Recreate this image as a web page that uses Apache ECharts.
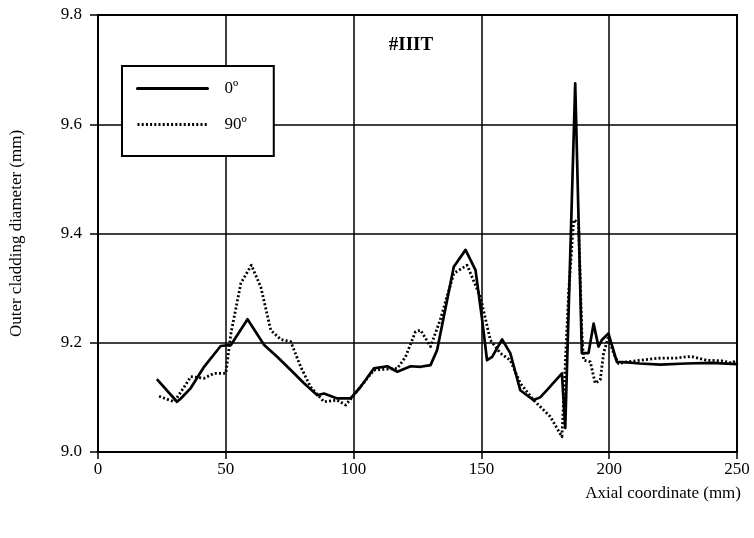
<!DOCTYPE html>
<html>
<head>
<meta charset="utf-8">
<script src="https://cdn.jsdelivr.net/npm/echarts@6/dist/echarts.min.js"></script>
<style>html,body{margin:0;padding:0;background:#fff}#c{width:754px;height:538px}</style>
</head>
<body>
<div id="c"></div>
<script>
// ---- Data ----
const seriesNames = ['0\u00BA', '90\u00BA'];
const xTicks = [0, 50, 100, 150, 200, 250];
const yTicks = [9.0, 9.2, 9.4, 9.6, 9.8];

const x0 = [23.3, 30.9, 32.4, 36.3, 41.5, 48.0, 52.0, 58.5, 65.0, 70.2, 75.4, 80.6, 85.8, 88.4, 93.6, 98.8,
  102.7, 107.9, 113.2, 117.1, 122.3, 126.2, 130.1, 132.7, 139.2, 143.8, 147.7, 150.3, 152.2, 154.2, 158.1,
  161.3, 165.2, 170.4, 173.0, 176.0, 181.5, 182.8, 186.7, 189.3, 191.9, 193.9, 195.8, 197.1, 199.7, 203.0,
  207.0, 212.0, 220.0, 230.0, 240.0, 250.0];
const y0 = [9.132, 9.092, 9.098, 9.117, 9.156, 9.194, 9.196, 9.243, 9.196, 9.174, 9.150, 9.126, 9.104, 9.107, 9.098, 9.098,
  9.119, 9.153, 9.157, 9.147, 9.157, 9.156, 9.159, 9.187, 9.339, 9.370, 9.333, 9.242, 9.168, 9.174, 9.206,
  9.181, 9.113, 9.095, 9.100, 9.115, 9.144, 9.044, 9.675, 9.181, 9.181, 9.235, 9.193, 9.205, 9.217, 9.165,
  9.164, 9.162, 9.160, 9.162, 9.163, 9.161];

const x90 = [23.9, 29.8, 33.7, 36.3, 41.5, 45.4, 50.0, 52.0, 55.9, 60.0, 63.7, 67.6, 71.5, 75.4, 79.3, 83.2,
  88.4, 93.6, 96.9, 100.1, 107.9, 117.1, 120.3, 124.2, 126.2, 130.1, 133.9, 139.2, 144.4, 149.6, 153.5,
  157.4, 161.3, 165.2, 170.4, 176.9, 181.5, 184.1, 186.1, 188.0, 189.3, 190.0, 192.6, 194.5, 196.5, 197.8,
  199.7, 201.7, 203.6, 207.0, 212.0, 220.0, 226.0, 232.0, 238.0, 244.0, 248.0, 250.0];
const y90 = [9.102, 9.092, 9.119, 9.138, 9.135, 9.144, 9.144, 9.217, 9.309, 9.342, 9.302, 9.223, 9.206, 9.202, 9.156, 9.119,
  9.092, 9.095, 9.086, 9.104, 9.150, 9.153, 9.174, 9.220, 9.223, 9.193, 9.242, 9.327, 9.342, 9.284, 9.205,
  9.181, 9.168, 9.126, 9.095, 9.065, 9.028, 9.290, 9.425, 9.419, 9.217, 9.168, 9.165, 9.126, 9.132, 9.181,
  9.211, 9.181, 9.162, 9.165, 9.168, 9.172, 9.172, 9.175, 9.168, 9.167, 9.163, 9.168];

const pair = (xs, ys) => xs.map((x, i) => [x, ys[i]]);

const font = '"Liberation Serif", "DejaVu Serif", serif';
const chart = echarts.init(document.getElementById('c'), null, { renderer: 'canvas' });
chart.setOption({
  animation: false,
  backgroundColor: '#fff',
  title: {
    text: '#IIIT', left: 406, top: 31, textAlign: 'center',
    textStyle: { fontFamily: font, fontSize: 19, fontWeight: 'bold', color: '#000' }
  },
  grid: { left: 97, right: 17, top: 15, bottom: 86, show: true, borderColor: '#000', borderWidth: 2, backgroundColor: 'transparent' },
  legend: {
    show: true, orient: 'vertical', left: 122, top: 66,
    padding: [14, 27, 23, 14], itemGap: 19, itemWidth: 70, itemHeight: 14,
    borderColor: '#000', borderWidth: 2, backgroundColor: '#fff',
    itemStyle: { color: 'rgba(0,0,0,0)', borderColor: 'rgba(0,0,0,0)', borderWidth: 0 },
    lineStyle: { width: 3 },
    textStyle: { fontFamily: font, fontSize: 17, color: '#000', padding: [0, 0, 0, 12] },
    data: seriesNames
  },
  xAxis: {
    type: 'value', min: xTicks[0], max: xTicks[xTicks.length - 1], interval: 50,
    name: 'Axial coordinate (mm)', nameLocation: 'end', nameGap: 4,
    nameTextStyle: { fontFamily: font, fontSize: 17, color: '#000', align: 'right', verticalAlign: 'top', padding: [33, 0, 0, 0] },
    axisLine: { show: true, lineStyle: { color: '#000', width: 2 } },
    axisTick: { show: true, length: 7, lineStyle: { color: '#000', width: 1.5 } },
    axisLabel: { fontFamily: font, fontSize: 17, color: '#000', margin: 9 },
    splitLine: { show: true, lineStyle: { color: '#000', width: 1.5 } }
  },
  yAxis: {
    type: 'value', min: yTicks[0], max: yTicks[yTicks.length - 1], interval: 0.2,
    name: 'Outer cladding diameter (mm)', nameLocation: 'middle', nameGap: 73,
    nameTextStyle: { fontFamily: font, fontSize: 17, color: '#000' },
    axisLine: { show: true, lineStyle: { color: '#000', width: 2 } },
    axisTick: { show: true, length: 8, lineStyle: { color: '#000', width: 1.5 } },
    axisLabel: { fontFamily: font, fontSize: 17, color: '#000', margin: 16, formatter: v => v.toFixed(1) },
    splitLine: { show: true, lineStyle: { color: '#000', width: 1.5 } }
  },
  series: [
    {
      name: seriesNames[0], type: 'line', data: pair(x0, y0), symbol: 'none',
      lineStyle: { color: '#000', width: 2.7, type: 'solid', cap: 'round', join: 'round' },
      itemStyle: { color: '#000' }, z: 3
    },
    {
      name: seriesNames[1], type: 'line', data: pair(x90, y90), symbol: 'none',
      lineStyle: { color: '#000', width: 2.8, type: [2, 2.2], cap: 'butt', join: 'round' },
      itemStyle: { color: '#000' }, z: 2
    }
  ]
});
</script>
</body>
</html>
